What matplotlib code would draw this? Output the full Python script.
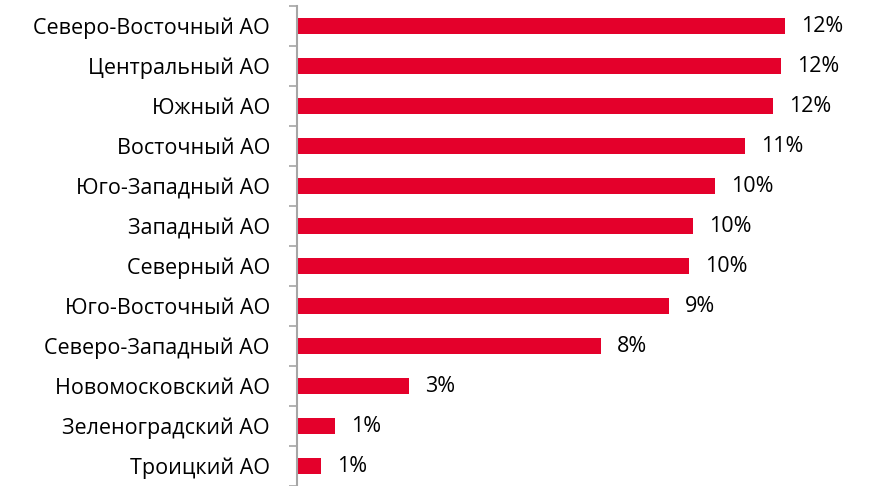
import matplotlib
matplotlib.use("Agg")
import matplotlib.pyplot as plt
from matplotlib.ticker import FixedLocator

# districts, top to bottom
districts = [
    "Северо-Восточный АО",
    "Центральный АО",
    "Южный АО",
    "Восточный АО",
    "Юго-Западный АО",
    "Западный АО",
    "Северный АО",
    "Юго-Восточный АО",
    "Северо-Западный АО",
    "Новомосковский АО",
    "Зеленоградский АО",
    "Троицкий АО",
]
shares = [12.2, 12.1, 11.9, 11.2, 10.45, 9.9, 9.8, 9.3, 7.6, 2.8, 0.94, 0.6]
labels = ["12%", "12%", "12%", "11%", "10%", "10%", "10%", "9%", "8%", "3%", "1%", "1%"]

RED = "#E4002B"
FS = 15.5
plt.rcParams["font.family"] = ["Open Sans", "DejaVu Sans"]

fig = plt.figure(figsize=(8.75, 4.86), dpi=100)
ax = fig.add_axes([297 / 875, 0, 578 / 875, 480 / 486])

n = len(districts)
ypos = list(range(n))
ax.barh(ypos, shares, height=0.4, color=RED)
for y, v, lab in zip(ypos, shares, labels):
    ax.text(v + 0.4, y, lab, va="center", ha="left", fontsize=FS, color="#000000")

ax.set_xlim(0, 14.45)
ax.set_ylim(n - 0.5, -0.5)

# boundary ticks between categories, labels centred on the bars
ax.yaxis.set_major_locator(FixedLocator([i - 0.5 for i in range(n + 1)]))
ax.set_yticklabels([], minor=False)
ax.set_yticks(ypos, minor=True)
ax.set_yticklabels(districts, minor=True, fontsize=FS)
ax.tick_params(axis="y", which="major", length=6, width=1.2, color="#A6A6A6")
ax.tick_params(axis="y", which="minor", length=0, pad=19.5)
ax.set_xticks([])

for s in ["top", "right", "bottom"]:
    ax.spines[s].set_visible(False)
ax.spines["left"].set_color("#A6A6A6")
ax.spines["left"].set_linewidth(1.5)

fig.savefig("out.png", dpi=100)
